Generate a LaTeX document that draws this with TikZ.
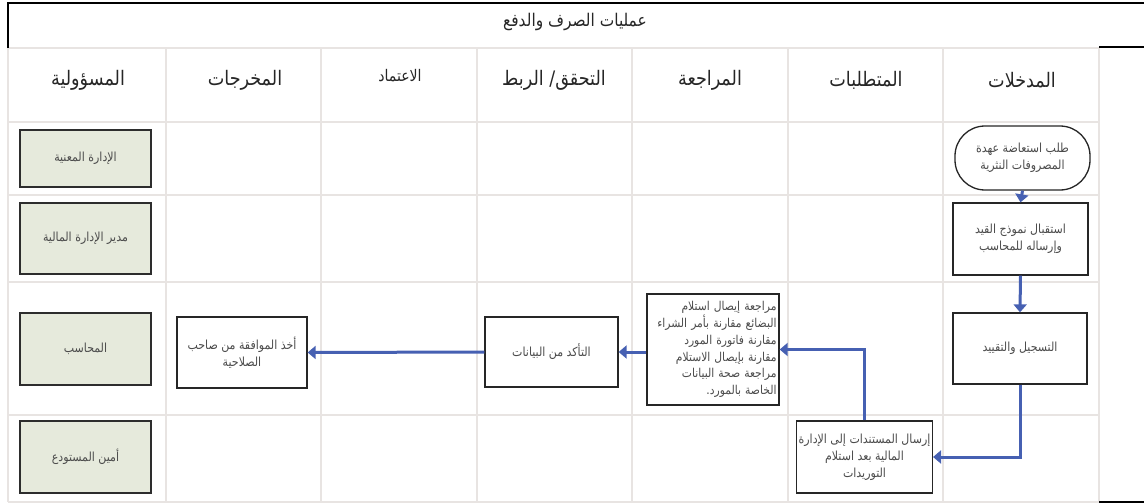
\documentclass[tikz,border=0pt]{standalone}
\usepackage{fontspec}
\TeXXeTstate=1
\newfontfamily\arabicfont[Script=Arabic,FakeStretch=0.88]{DejaVu Sans}
\usetikzlibrary{arrows.meta}
\newcommand{\artext}[1]{\beginR #1\endR}
\definecolor{gridgray}{RGB}{232,228,226}
\definecolor{sagegreen}{RGB}{230,234,220}
\definecolor{flowblue}{RGB}{70,96,178}
\definecolor{textgray}{RGB}{75,75,75}
\definecolor{rolegray}{RGB}{45,45,45}
\begin{document}
\begin{tikzpicture}[x=1pt,y=-1pt,
  gridline/.style={draw=gridgray,line width=1.4pt},
  frameline/.style={draw=black,line width=1.2pt},
  headtext/.style={font=\arabicfont\fontsize{20}{24}\selectfont,text=black!85,inner sep=0pt},
  titletext/.style={font=\arabicfont\fontsize{17.5}{20}\selectfont,text=black!85,inner sep=0pt},
  proc/.style={draw=black!85,line width=1.3pt,fill=white,text=textgray,
    font=\arabicfont\fontsize{12.5}{17}\selectfont,align=center,inner sep=2pt},
  role/.style={draw=rolegray,line width=1.7pt,fill=sagegreen,text=textgray,
    font=\arabicfont\fontsize{12.5}{17}\selectfont,minimum width=131pt,inner sep=2pt},
  flow/.style={draw=flowblue,line width=3pt,-{Triangle[length=8pt,width=13pt]}}]
\useasboundingbox (0,0) rectangle (1144,503);
% grid
\foreach \x in {8,166,321,477,632,788,943,1099} \draw[gridline] (\x,48) -- (\x,502);
\foreach \y in {48,122,195,282,415,502} \draw[gridline] (8,\y) -- (1099,\y);
% frame
\draw[frameline] (8,48) -- (8,3) -- (1144,3);
\draw[draw=black,line width=1.6pt] (1099,47) -- (1144,47);
\draw[draw=black,line width=1.6pt] (1099,502) -- (1144,502);
% title
\node[titletext] (title) at (575,22) {\artext{عمليات الصرف والدفع}};
% headers
\node[headtext] (h1) at (1022,80) {\artext{المدخلات}};
\node[headtext] (h2) at (866,80) {\artext{المتطلبات}};
\node[headtext] (h3) at (710,80) {\artext{المراجعة}};
\node[headtext] (h4) at (554,80) {\artext{التحقق/ الربط}};
\node[headtext,font=\arabicfont\fontsize{16}{19}\selectfont] (h5) at (400,76) {\artext{الاعتماد}};
\node[headtext] (h6) at (245,80) {\artext{المخرجات}};
\node[headtext] (h7) at (88,80) {\artext{المسؤولية}};
% roles
\node[role,minimum height=57pt] (g1) at (85.5,158.5) {\artext{الإدارة المعنية}};
\node[role,minimum height=71pt] (g2) at (85.5,238.5) {\artext{مدير الإدارة المالية}};
\node[role,minimum height=72pt] (g3) at (85.5,349) {\artext{المحاسب}};
\node[role,minimum height=72pt] (g4) at (85.5,457) {\artext{أمين المستودع}};
% process nodes
\node[proc,rounded corners=30pt,minimum width=135pt,minimum height=64pt] (n1) at (1022.5,158)
  {\artext{طلب استعاضة عهدة}\\\artext{المصروفات النثرية}};
\node[proc,minimum width=135pt,minimum height=72pt] (n2) at (1020.5,239)
  {\artext{استقبال نموذج القيد}\\\artext{وإرساله للمحاسب}};
\node[proc,minimum width=134pt,minimum height=71pt] (n3) at (1020,348.5)
  {\artext{التسجيل والتقييد}};
\node[proc,minimum width=135pt,minimum height=72pt] (n4) at (864.5,457)
  {\artext{إرسال المستندات إلى الإدارة}\\\artext{المالية بعد استلام}\\\artext{التوريدات}};
\node[proc,minimum width=132pt,minimum height=111pt,text width=127pt,align=right,
  font=\arabicfont\fontsize{12.2}{16.8}\selectfont] (n5) at (713,349.5)
  {\artext{مراجعة إيصال استلام}\\\artext{البضائع مقارنة بأمر الشراء}\\\artext{مقارنة فاتورة المورد}\\\artext{مقارنة بإيصال الاستلام}\\\artext{مراجعة صحة البيانات}\\\artext{الخاصة بالمورد.}};
\node[proc,minimum width=133pt,minimum height=70pt] (n6) at (551.5,352)
  {\artext{التأكد من البيانات}};
\node[proc,minimum width=130pt,minimum height=71pt] (n7) at (242,352.5)
  {\artext{أخذ الموافقة من صاحب}\\\artext{الصلاحية}};
% connectors
\draw[flow] (n1.south) -- (n2.north);
\draw[flow] (n2.south) -- (n3.north);
\draw[flow] (n3.south) |- (n4.east);
\draw[flow] (n4.north) |- (n5.east);
\draw[flow] (n5.west |- n6.east) -- (n6.east);
\draw[flow] (n6.west) -- (n7.east);
\end{tikzpicture}
\end{document}
